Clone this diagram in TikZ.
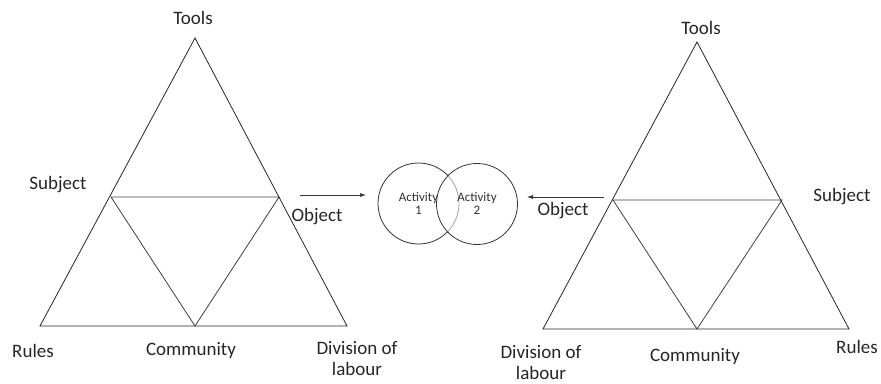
\documentclass[tikz,border=0pt]{standalone}
\usepackage{fontspec}
\setmainfont{Carlito}
\usetikzlibrary{arrows.meta}
\begin{document}
\begin{tikzpicture}[x=1pt,y=-1pt,
  edge/.style={draw=black!85,line width=0.8pt},
  inner/.style={draw=black!75,line width=0.8pt},
  lbl/.style={font=\fontsize{19}{21}\selectfont,text=black!85,inner sep=0pt,align=center},
  act/.style={draw=black!80,line width=0.8pt,circle,minimum size=81pt,inner sep=0pt,
    font=\fontsize{13}{13}\selectfont,text=black!80,align=center},
  arr/.style={draw=black!80,line width=0.6pt,-{Latex[length=6pt,width=4pt]}}]
\useasboundingbox (0,0) rectangle (881,383);
% left triangle
\coordinate (LT) at (195,38);
\coordinate (LL) at (40,326);
\coordinate (LR) at (347,326);
\coordinate (LML) at (111,197);
\coordinate (LMR) at (279,197);
\coordinate (LB) at (195,326);
\draw[edge] (LT) -- (LL) -- (LR) -- cycle;
\draw[inner] (LML) -- (LMR) -- (LB) -- cycle;
\node[lbl] (ltools) at (193,18) {Tools};
\node[lbl] (lsubj) at (58,185) {Subject};
\node[lbl] (lobj) at (317,217) {Object};
\node[lbl] (lrules) at (33,351) {Rules};
\node[lbl] (lcomm) at (191,350) {Community};
\node[lbl] (ldiv) at (357,359) {Division of\\labour};
% right triangle
\coordinate (RT) at (697,42);
\coordinate (RL) at (543,329);
\coordinate (RR) at (849,329);
\coordinate (RML) at (613,200);
\coordinate (RMR) at (782,200);
\coordinate (RB) at (697,329);
\draw[edge] (RT) -- (RL) -- (RR) -- cycle;
\draw[inner] (RML) -- (RMR) -- (RB) -- cycle;
\node[lbl] (rtools) at (701,28) {Tools};
\node[lbl] (rsubj) at (842,197) {Subject};
\node[lbl] (robj) at (563,211) {Object};
\node[lbl] (rrules) at (857,347) {Rules};
\node[lbl] (rcomm) at (695,356) {Community};
\node[lbl] (rdiv) at (541,363) {Division of\\labour};
% activities
\node[act] (c1) at (418.5,203.5) {Activity\\1};
\node[act,fill=white,fill opacity=0.55,text opacity=1] (c2) at (477,204) {Activity\\2};
% arrows
\coordinate (a1s) at (300,195);
\coordinate (a1e) at (366,195);
\coordinate (a2s) at (604,197);
\coordinate (a2e) at (527,197);
\draw[arr] (a1s) -- (a1e);
\draw[arr] (a2s) -- (a2e);
\end{tikzpicture}
\end{document}
